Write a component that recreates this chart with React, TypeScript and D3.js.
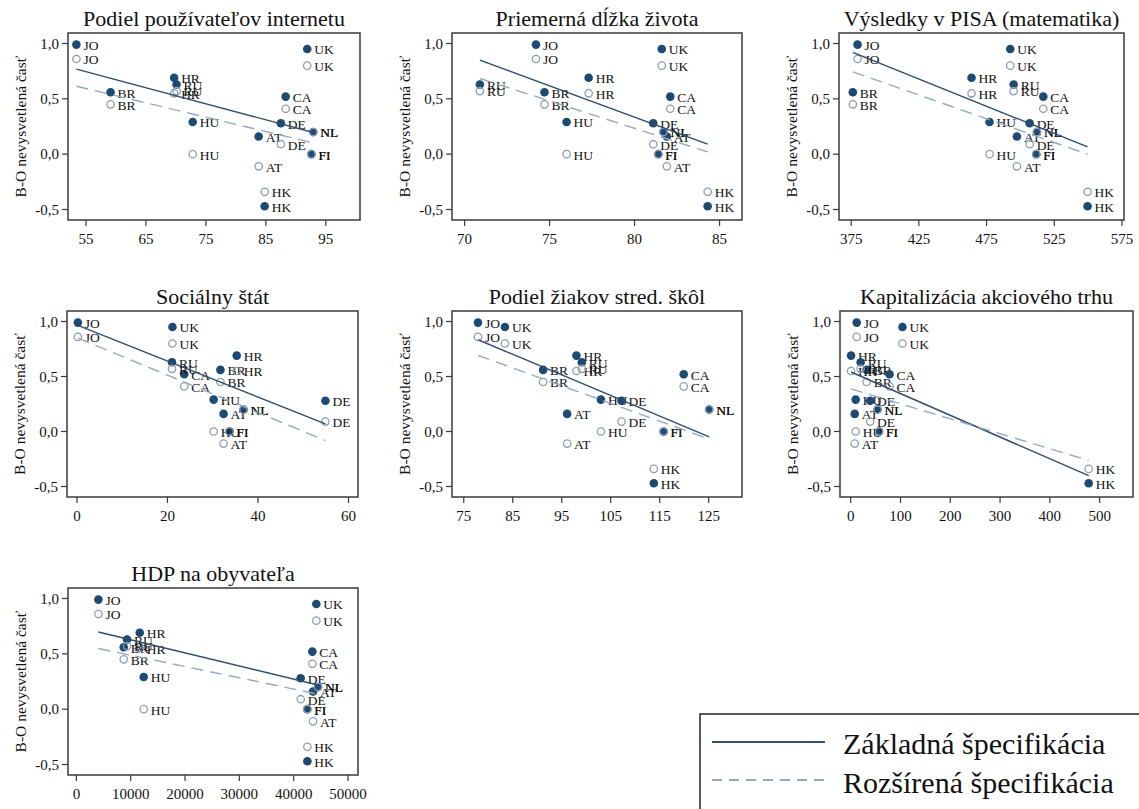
import * as d3 from "d3";

// countries and the unexplained part of the B-O decomposition
const countries = ["JO", "UK", "HR", "RU", "BR", "CA", "HU", "DE", "NL", "AT", "FI", "HK"];
const basicGap = [0.99, 0.95, 0.69, 0.63, 0.56, 0.52, 0.29, 0.28, 0.2, 0.16, 0.0, -0.47];
const extendedGap = [0.86, 0.8, 0.55, 0.57, 0.45, 0.41, 0.0, 0.09, 0.2, -0.11, 0.0, -0.34];

// explanatory variables (same country order)
const internetUsers = [53.4, 91.9, 69.7, 70.1, 59.1, 88.3, 72.8, 87.5, 92.9, 83.8, 92.6, 84.8];
const lifeExpectancy = [74.2, 81.6, 77.3, 70.9, 74.7, 82.1, 76.0, 81.1, 81.7, 81.9, 81.4, 84.3];
const pisaMath = [379.7, 492.5, 463.9, 495, 376.2, 516.9, 477.2, 506.8, 512.2, 497.4, 511.7, 549.6];
const welfareState = [0.2, 21.1, 35.3, 21.0, 31.7, 23.7, 30.2, 54.9, 36.8, 32.4, 33.7, null];
const secondaryShare = [77.9, 83.4, 98.0, 99.1, 91.2, 119.9, 103.0, 107.2, 125.1, 96.1, 115.8, 113.8];
const marketCap = [12, 104, 0.7, 20, 32, 78, 10, 39, 54, 8, 57, 478];
const gdpPerCapita = [4050, 44170, 11660, 9330, 8710, 43440, 12390, 41290, 44480, 43560, 42520, 42520];

const panelTitles = [
  "Podiel používateľov internetu",
  "Priemerná dĺžka života",
  "Výsledky v PISA (matematika)",
  "Sociálny štát",
  "Podiel žiakov stred. škôl",
  "Kapitalizácia akciového trhu",
  "HDP na obyvateľa",
];
const panelX = [internetUsers, lifeExpectancy, pisaMath, welfareState, secondaryShare, marketCap, gdpPerCapita];
const panelTicks = [
  [55, 65, 75, 85, 95],
  [70, 75, 80, 85],
  [375, 425, 475, 525, 575],
  [0, 20, 40, 60],
  [75, 85, 95, 105, 115, 125],
  [0, 100, 200, 300, 400, 500],
  [0, 10000, 20000, 30000, 40000, 50000],
];
const panelRange = [
  [52, 100.7],
  [69.26, 86.32],
  [366, 576.5],
  [-2.2, 62.1],
  [72.6, 131.8],
  [-21.5, 567],
  [-1546, 51841],
];
const yTicks = [-0.5, 0, 0.5, 1.0];

// fitted line values at the lowest and highest x of each panel
const fitBasicStart = [0.768, 0.849, 0.919, 0.964, 0.834, 0.541, 0.697];
const fitBasicEnd = [0.196, 0.09, 0.066, 0.069, -0.048, -0.402, 0.218];
const fitExtStart = [0.614, 0.684, 0.744, 0.849, 0.692, 0.387, 0.548];
const fitExtEnd = [0.102, 0.021, 0.0, -0.082, -0.069, -0.263, 0.136];

const legendLabels = ["Základná špecifikácia", "Rozšírená špecifikácia"];

const FONT = "'Liberation Serif', 'Times New Roman', serif";
const NAVY = "#1c4a72";
const LIGHT = "#8c9eb3";
const LINE_SOLID = "#2f4e70";
const LINE_DASH = "#95a9be";
const FRAME = "#3a3a3a";

const frames = [
  { l: 68, r: 360, t: 33, b: 220 },
  { l: 452, r: 742, t: 33, b: 220 },
  { l: 839, r: 1124, t: 33, b: 220 },
  { l: 67, r: 358, t: 311, b: 497 },
  { l: 452, r: 742, t: 311, b: 497 },
  { l: 840, r: 1133, t: 311, b: 497 },
  { l: 68, r: 358, t: 588, b: 775 },
];

const loc = d3.formatLocale({ decimal: ",", thousands: "", grouping: [3], currency: ["", ""], minus: "-" });
const fmtY = loc.format(".1f");
const fmtX = loc.format("d");

function Panel({ i }: { i: number }) {
  const f = frames[i];
  const xv = panelX[i];
  const x = d3.scaleLinear().domain(panelRange[i]).range([f.l, f.r]);
  const y = d3.scaleLinear().domain([-0.5, 1]).range([f.b - 10.5, f.t + 10.5]);

  const pts = countries
    .map((c, k) => ({ c, x: xv[k], yb: basicGap[k], ye: extendedGap[k] }))
    .filter((d) => d.x != null) as { c: string; x: number; yb: number; ye: number }[];
  const [xmin, xmax] = d3.extent(pts, (d) => d.x) as [number, number];

  const line = d3.line<[number, number]>().x((d) => x(d[0])).y((d) => y(d[1]));
  const solid = line([[xmin, fitBasicStart[i]], [xmax, fitBasicEnd[i]]]) || "";
  const dashed = line([[xmin, fitExtStart[i]], [xmax, fitExtEnd[i]]]) || "";

  const cy = (f.t + f.b) / 2;

  return (
    <g>
      <text x={(f.l + f.r) / 2} y={f.t - 7} textAnchor="middle" fontSize={22} fontFamily={FONT} fill="#111">
        {panelTitles[i]}
      </text>
      <text
        transform={`translate(${f.l - 48},${cy}) rotate(-90)`}
        textAnchor="middle"
        dominantBaseline="central"
        fontSize={15.5}
        fontFamily={FONT}
        fill="#111"
      >
        B-O nevysvetlená časť
      </text>
      {yTicks.map((t) => (
        <g key={"y" + t}>
          <line x1={f.l - 6} x2={f.l} y1={y(t)} y2={y(t)} stroke={FRAME} strokeWidth={1.2} />
          <text x={f.l - 9} y={y(t)} dy="0.35em" textAnchor="end" fontSize={15} fontFamily={FONT} fill="#111">
            {fmtY(t)}
          </text>
        </g>
      ))}
      {panelTicks[i].map((t) => (
        <g key={"x" + t}>
          <line x1={x(t)} x2={x(t)} y1={f.b} y2={f.b + 6} stroke={FRAME} strokeWidth={1.2} />
          <text x={x(t)} y={f.b + 24} textAnchor="middle" fontSize={15} fontFamily={FONT} fill="#111">
            {fmtX(t)}
          </text>
        </g>
      ))}
      {pts.map((d) => (
        <g key={"b" + d.c}>
          <circle cx={x(d.x)} cy={y(d.yb)} r={4.3} fill={NAVY} />
          <text x={x(d.x) + 7} y={y(d.yb)} dy="0.4em" fontSize={13.5} fontFamily={FONT} fill="#111">
            {d.c}
          </text>
        </g>
      ))}
      {pts.map((d) => (
        <g key={"e" + d.c}>
          <circle cx={x(d.x)} cy={y(d.ye)} r={3.7} fill="none" stroke={LIGHT} strokeWidth={1.3} />
          <text x={x(d.x) + 7} y={y(d.ye)} dy="0.4em" fontSize={13.5} fontFamily={FONT} fill="#111">
            {d.c}
          </text>
        </g>
      ))}
      <path d={solid} fill="none" stroke={LINE_SOLID} strokeWidth={1.4} />
      <path d={dashed} fill="none" stroke={LINE_DASH} strokeWidth={1.4} strokeDasharray="12,7" />
      <rect x={f.l} y={f.t} width={f.r - f.l} height={f.b - f.t} fill="none" stroke={FRAME} strokeWidth={1.5} />
    </g>
  );
}

export default function App() {
  return (
    <svg
      width={1139}
      height={809}
      style={{ position: "absolute", left: 0, top: 0, background: "#fff" }}
    >
      <rect width={1139} height={809} fill="#fff" />
      {frames.map((_, i) => (
        <Panel key={i} i={i} />
      ))}
      <g>
        <rect x={700} y={714} width={460} height={120} fill="#fff" stroke="#222" strokeWidth={1.5} />
        <line x1={712} x2={825} y1={742} y2={742} stroke={LINE_SOLID} strokeWidth={2} />
        <line x1={712} x2={825} y1={780} y2={780} stroke={LINE_DASH} strokeWidth={2} strokeDasharray="10,7" />
        <text x={843} y={754} fontSize={30} fontFamily={FONT} fill="#111">
          {legendLabels[0]}
        </text>
        <text x={843} y={793} fontSize={30} fontFamily={FONT} fill="#111">
          {legendLabels[1]}
        </text>
      </g>
    </svg>
  );
}
